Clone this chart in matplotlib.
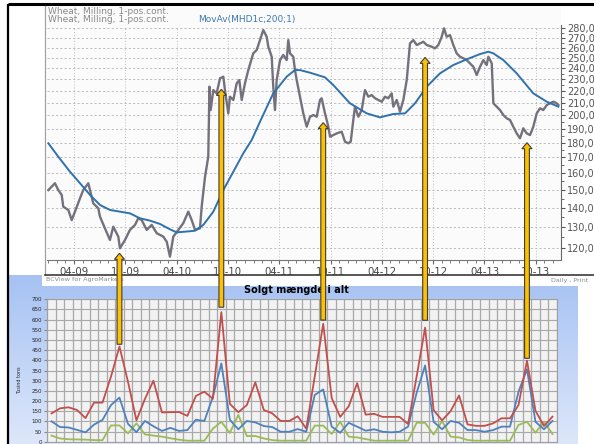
import numpy as np
import matplotlib
matplotlib.use('Agg')
import matplotlib.pyplot as plt
import matplotlib.patches as mpatches
from matplotlib.colors import LinearSegmentedColormap
from matplotlib.ticker import FixedLocator, FixedFormatter, NullFormatter

W, H = 594, 444

# ── top chart: Wheat, Milling, 1-pos.cont. (months since Jan 2009, log price) ──
price_month = [0.0, 0.77, 1.16, 1.56, 1.74, 2.33, 2.73, 3.11, 3.70, 4.08, 4.67, 4.87,
               5.25, 5.84, 6.04, 6.62, 7.20, 7.59, 8.18, 8.37, 8.96, 9.54, 10.13, 10.51,
               10.91, 11.50, 12.08, 12.67, 13.44, 13.84, 14.22, 14.61, 15.19, 15.78, 16.36,
               16.76, 17.15, 17.73, 17.93, 18.32, 18.70, 18.84, 18.98, 19.29, 19.68, 20.07,
               20.46, 20.65, 21.04, 21.24, 21.63, 22.02, 22.33, 22.61, 22.99, 23.38, 23.96,
               24.36, 24.75, 25.13, 25.53, 25.72, 26.12, 26.30, 26.50, 26.70, 27.09, 27.47,
               27.87, 28.06, 28.26, 28.64, 28.84, 29.04, 29.43, 29.81, 30.21, 30.60, 30.98,
               31.38, 31.77, 31.96, 32.35, 32.74, 32.94, 33.32, 33.72, 34.30, 34.69, 35.08,
               35.36, 35.66, 35.86, 36.25, 36.64, 37.03, 37.42, 37.81, 38.20, 38.58, 38.98,
               39.37, 39.75, 40.15, 40.34, 40.74, 41.12, 41.51, 41.91, 42.29, 42.68, 43.08,
               43.46, 43.85, 44.25, 44.83, 45.22, 45.60, 46.00, 46.27, 46.58, 46.97, 47.36,
               47.75, 48.14, 48.53, 48.92, 49.31, 49.70, 50.09, 50.48, 50.87, 51.26, 51.45,
               51.85, 52.04, 52.43, 52.82, 53.21, 53.60, 53.99, 54.37, 54.77, 55.15, 55.35,
               55.54, 55.94, 56.33, 56.71, 57.11, 57.50, 57.88, 58.28, 58.67, 59.05, 59.45,
               59.64]
price_value = [149.9, 153.9, 149.9, 147.1, 140.6, 138.8, 133.5, 137.9, 145.2, 149.9, 153.9,
               149.9, 142.4, 139.7, 135.2, 129.3, 123.6, 130.1, 125.2, 119.7, 123.6, 128.5,
               131.0, 134.4, 133.5, 128.5, 131.0, 126.9, 125.2, 122.8, 115.9, 125.2, 128.5,
               131.9, 137.9, 133.5, 128.5, 129.3, 140.6, 157.8, 170.5, 223.5, 204.2, 220.6,
               217.8, 230.8, 232.3, 220.6, 201.6, 215.0, 212.3, 226.4, 229.3, 212.3, 226.4,
               238.3, 254.2, 257.5, 267.6, 278.2, 271.1, 260.8, 250.9, 223.5, 204.2, 229.3,
               247.7, 252.6, 247.7, 267.6, 254.2, 250.9, 238.3, 229.3, 215.0, 201.6, 191.5,
               199.0, 200.3, 199.0, 212.3, 213.7, 201.6, 191.5, 184.2, 185.4, 186.6, 187.8,
               180.7, 179.6, 180.7, 196.5, 206.9, 199.0, 204.2, 220.6, 215.0, 216.4, 213.7,
               212.3, 210.9, 215.0, 213.7, 217.8, 206.9, 212.3, 202.9, 212.3, 229.3, 264.2,
               267.6, 262.5, 264.2, 265.9, 262.5, 260.8, 259.2, 262.5, 271.1, 280.0, 271.1,
               272.8, 262.5, 254.2, 250.9, 249.4, 247.7, 244.6, 241.4, 233.8, 241.4, 247.7,
               243.0, 250.9, 244.6, 209.6, 206.9, 204.2, 200.3, 197.8, 196.5, 191.5, 186.6,
               183.1, 186.6, 190.3, 186.6, 185.4, 191.5, 201.6, 205.6, 204.2, 208.2, 209.6,
               210.9, 209.6, 208.2]

mavg_month = [0.0, 1.16, 2.53, 3.70, 4.87, 6.04, 7.20, 8.37, 9.54, 10.71, 11.88, 13.05,
              14.22, 15.01, 16.18, 17.15, 18.12, 19.29, 20.46, 21.63, 22.80, 23.78, 24.75,
              26.30, 27.87, 28.84, 29.43, 30.60, 32.35, 33.32, 35.27, 37.23, 38.78, 40.34,
              41.71, 42.88, 44.25, 45.80, 47.36, 48.92, 50.48, 51.45, 52.04, 53.21, 54.77,
              56.71, 58.28, 59.64]
mavg_value = [179.6, 170.5, 160.9, 153.9, 147.1, 141.5, 138.8, 137.9, 137.0, 134.4, 133.2,
              131.5, 128.8, 127.3, 127.7, 128.1, 131.0, 137.9, 149.9, 160.9, 172.8, 181.9,
              195.2, 217.8, 232.3, 238.3, 238.3, 235.9, 231.7, 224.9, 209.6, 201.6, 198.5,
              201.1, 201.6, 209.6, 223.5, 235.3, 243.0, 248.4, 253.5, 255.8, 254.2, 247.7,
              235.3, 217.8, 210.9, 206.9]

price_ticks = list(range(120, 281, 10))
date_tick_month = [3, 9, 15, 21, 27, 33, 39, 45, 51, 57]
date_tick_label = ['04-09', '10-09', '04-10', '10-10', '04-11',
                   '10-11', '04-12', '10-12', '04-13', '10-13']

# ── bottom chart: Solgt mængde i alt (Tusind tons, one value per month) ──
sales_red = [139, 164, 169, 156, 116, 192, 192, 320, 468, 295, 105, 210, 300, 144, 145,
             146, 127, 225, 246, 211, 637, 186, 145, 180, 292, 156, 139, 102, 102, 125,
             64, 320, 580, 214, 122, 174, 288, 133, 137, 122, 122, 122, 87, 320, 561,
             155, 105, 150, 227, 85, 78, 78, 90, 115, 115, 180, 398, 152, 77, 123]
sales_blue = [100, 72, 70, 58, 46, 84, 107, 180, 217, 88, 47, 102, 76, 53, 68,
              53, 57, 108, 102, 220, 385, 108, 61, 102, 95, 77, 72, 49, 49, 62,
              49, 230, 257, 74, 44, 93, 74, 54, 61, 49, 46, 49, 74, 240, 375,
              98, 61, 102, 93, 57, 57, 49, 57, 74, 74, 245, 356, 98, 61, 102]
sales_green = [30, 16, 12, 11, 10, 8, 7, 80, 80, 41, 90, 36, 30, 25, 17,
               10, 5, 5, 5, 64, 98, 43, 132, 28, 28, 16, 8, 5, 5, 5,
               5, 79, 79, 38, 98, 25, 21, 13, 5, 5, 5, 5, 5, 93, 93,
               35, 102, 25, 21, 8, 5, 5, 5, 5, 5, 82, 98, 44, 98, 38]
sales_ticks = list(range(0, 701, 50))

# arrows: sales month index -> (sales level at tail, price level at tip)
arrow_idx = [8, 20, 32, 44, 56]
arrow_from = [479, 661, 598, 597, 410]
arrow_to = [117.4, 221.2, 194.5, 250.3, 180.0]


def px_rect(x0, y0, x1, y1):
    return [x0 / W, 1 - y1 / H, (x1 - x0) / W, (y1 - y0) / H]


fig = plt.figure(figsize=(W / 100, H / 100), dpi=100)

# ── background: blue gradient panel, white price box, black frame ─────────────
bg = fig.add_axes([0, 0, 1, 1], zorder=0)
grad = np.linspace(0, 1, 256)[:, None]
cmap = LinearSegmentedColormap.from_list('panel', ['#a6c2f3', '#dde7fa'])
bg.imshow(grad, cmap=cmap, extent=(9, 578, 444, 275), aspect='auto')
bg.add_patch(mpatches.Rectangle((42, 4), 552, 282, color='white', lw=0))
bg.plot([8, 594], [4.5, 4.5], color='black', lw=2.2, solid_capstyle='butt')
bg.plot([8, 8], [4, 444], color='black', lw=1.6, solid_capstyle='butt')
bg.plot([45, 45], [6, 275], color='#a0a0a0', lw=0.9)
bg.plot([45, 594], [275, 275], color='#2a2a2a', lw=1.1)
bg.set_xlim(0, W)
bg.set_ylim(H, 0)
bg.axis('off')

# ── top chart ────────────────────────────────────────────────────────────────
ax = fig.add_axes(px_rect(47, 8, 561, 260), zorder=1)
ax.set_facecolor('#fbfbfb')
ax.set_yscale('log')
ymin, ymax = 114.4, 302.9
ax.set_ylim(ymin, ymax)
ax.set_xlim(-0.16, 59.95)

for v in price_ticks:
    ax.axhline(v, color='#bdbdbd', lw=0.7, ls=(0, (2.2, 2.2)), zorder=1)
for m in date_tick_month:
    ax.plot([m, m], [ymin, 282], color='#bdbdbd', lw=0.7, ls=(0, (1, 2)), zorder=1)

ax.plot(price_month, price_value, color='#74717c', lw=1.7, zorder=3)
ax.plot(mavg_month, mavg_value, color='#2f72ae', lw=1.4, zorder=4)

ax.yaxis.tick_right()
ax.yaxis.set_major_locator(FixedLocator(price_ticks))
ax.yaxis.set_major_formatter(FixedFormatter([f'{v},00' for v in price_ticks]))
ax.yaxis.set_minor_locator(FixedLocator([v + 5 for v in price_ticks[:-1]]))
ax.yaxis.set_minor_formatter(NullFormatter())
ax.tick_params(axis='y', which='major', length=3, color='#555', labelsize=7,
               labelcolor='#555', pad=1.5)
ax.tick_params(axis='y', which='minor', length=2, color='#555')

ax.xaxis.set_major_locator(FixedLocator(date_tick_month))
ax.xaxis.set_major_formatter(FixedFormatter(date_tick_label))
ax.xaxis.set_minor_locator(FixedLocator(list(range(0, 60))))
ax.xaxis.set_minor_formatter(NullFormatter())
ax.tick_params(axis='x', which='major', length=3, color='#666', labelsize=7.3,
               labelcolor='#444', pad=2)
ax.tick_params(axis='x', which='minor', length=2, color='#666')

ax.spines['top'].set_visible(False)
ax.spines['left'].set_visible(False)
ax.spines['right'].set_color('#666')
ax.spines['right'].set_bounds(ymin, 283.6)
ax.spines['bottom'].set_color('#777')

# ── bottom chart ─────────────────────────────────────────────────────────────
bx = fig.add_axes(px_rect(47.3, 299.3, 556.7, 441.7), zorder=1)
bx.set_facecolor('#f2f2f2')
months = np.arange(len(sales_red))
for b in np.arange(-0.5, len(sales_red), 1.0):
    bx.axvline(b, color='#a9a9a9', lw=0.9, zorder=1)
for v in sales_ticks:
    bx.axhline(v, color='#a9a9a9', lw=0.8, zorder=1)
bx.plot(months, sales_green, color='#9bbb59', lw=1.3, zorder=3)
bx.plot(months, sales_blue, color='#4f81bd', lw=1.3, zorder=3)
bx.plot(months, sales_red, color='#c0504d', lw=1.3, zorder=4)
bx.set_xlim(-0.5, len(sales_red) - 0.5)
bx.set_ylim(0, 700)
bx.set_xticks([])
bx.set_yticks(sales_ticks)
bx.set_yticklabels([str(v) for v in sales_ticks])
bx.tick_params(axis='y', length=2.5, pad=1.5, labelsize=4, color='#888',
               labelcolor='#222')
for s in bx.spines.values():
    s.set_color('#a0a0a0')
    s.set_linewidth(0.8)

# ── overlay: texts and arrows in pixel coordinates ──────────────────────────
ov = fig.add_axes([0, 0, 1, 1], zorder=10)
ov.set_xlim(0, W)
ov.set_ylim(H, 0)
ov.axis('off')
ov.patch.set_visible(False)

ov.text(48, 11.4, 'Wheat, Milling, 1-pos.cont.', fontsize=6.5, color='#8a8a8a',
        va='center', ha='left')
ov.text(48, 19.6, 'Wheat, Milling, 1-pos.cont.', fontsize=6.5, color='#8a8a8a',
        va='center', ha='left')
ov.text(198, 19.6, 'MovAv(MHD1c;200;1)', fontsize=6.5, color='#3a78b5',
        va='center', ha='left')
ov.text(45.5, 279.5, 'BCView for AgroMarkets', fontsize=4.6, color='#8a8a8a',
        va='center', ha='left')
ov.text(551, 280.5, 'Daily , Print', fontsize=4.6, color='#8a8a8a',
        va='center', ha='left', clip_on=True)
ov.text(296, 290, 'Solgt mængde i alt', fontsize=7, fontweight='bold',
        color='black', va='center', ha='center')
ov.text(20, 380, 'Tusind tons', fontsize=3.5, rotation=90, color='#222',
        va='center', ha='center')

for i, v0, p1 in zip(arrow_idx, arrow_from, arrow_to):
    x_disp, y_disp = bx.transData.transform((i, v0))
    _, y_tip_disp = ax.transData.transform((0, p1))
    y0 = H - y_disp
    y1 = H - y_tip_disp
    ov.add_patch(mpatches.FancyArrow(x_disp, y0, 0, y1 - y0, width=4.8,
                                     head_width=10, head_length=6,
                                     length_includes_head=True, fc='#ffc000',
                                     ec='#3c3c3c', lw=0.8, zorder=20))

fig.savefig('out.png', dpi=100)
plt.close(fig)
